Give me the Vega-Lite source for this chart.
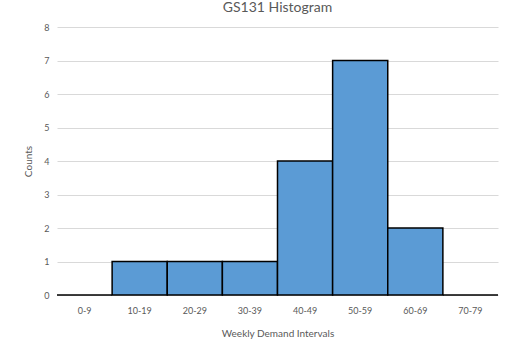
{
  "$schema": "https://vega.github.io/schema/vega-lite/v6.json",
  "width": 441,
  "height": 268,
  "autosize": {"type": "none"},
  "padding": {"left": 57, "top": 27, "right": 17, "bottom": 57},
  "background": "white",
  "title": {"text": "GS131 Histogram", "font": "Lato", "fontSize": 14, "fontWeight": "normal", "color": "#595959", "anchor": "middle", "offset": 8},
  "config": {
    "view": {"stroke": null},
    "font": "Lato"
  },
  "data": {"values": [
    {"interval": "0-9", "count": 0},
    {"interval": "10-19", "count": 1},
    {"interval": "20-29", "count": 1},
    {"interval": "30-39", "count": 1},
    {"interval": "40-49", "count": 4},
    {"interval": "50-59", "count": 7},
    {"interval": "60-69", "count": 2},
    {"interval": "70-79", "count": 0}
  ]},
  "mark": {"type": "bar", "color": "#5B9BD5", "stroke": "#000000", "strokeWidth": 1.5},
  "encoding": {
    "x": {"field": "interval", "type": "nominal", "sort": null,
      "scale": {"paddingInner": 0, "paddingOuter": 0},
      "axis": {"title": "Weekly Demand Intervals", "labelAngle": 0, "ticks": false, "domain": false,
        "labelPadding": 11, "labelFontSize": 9, "labelColor": "#595959", "labelFont": "Lato",
        "titleFontSize": 10, "titleFontWeight": "normal", "titleColor": "#595959", "titlePadding": 13, "titleFont": "Lato"}},
    "y": {"field": "count", "type": "quantitative",
      "scale": {"domain": [0, 8]},
      "axis": {"title": "Counts", "values": [0,1,2,3,4,5,6,7,8], "labelOverlap": false, "ticks": false, "domain": false,
        "gridColor": "#d9d9d9", "gridWidth": 1,
        "labelPadding": 8, "labelFontSize": 9, "labelColor": "#595959", "labelFont": "Lato",
        "titleFontSize": 10, "titleFontWeight": "normal", "titleColor": "#595959", "titlePadding": 10, "titleFont": "Lato"}}
  }
}
